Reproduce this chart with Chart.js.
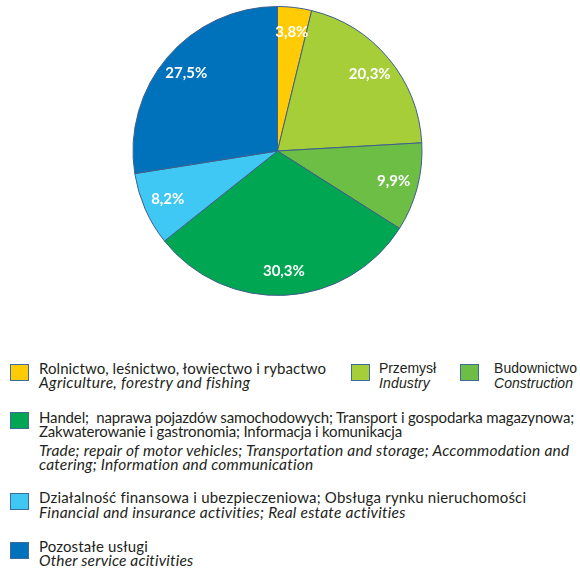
<!DOCTYPE html>
<html>
<head>
<meta charset="utf-8">
<script src="https://cdn.jsdelivr.net/npm/chart.js@4.4.0/dist/chart.umd.min.js"></script>
<style>
    body { margin: 0; background: #fff; width: 580px; height: 568px; overflow: hidden; position: relative; font-family: Lato, sans-serif; color: #231f20; }
    #pieWrap { position: absolute; left: 0; top: 6px; width: 555px; height: 290px; }
    .sw { position: absolute; width: 17px; height: 15px; border: 1px solid #3d6b9e; }
    .tx { position: absolute; white-space: pre; font-size: 15px; line-height: 14px; }
    .it { font-style: italic; font-size: 15.5px; }
    .tx.ar { font-family: "Liberation Sans", Arial, sans-serif; font-size: 14px; }
</style>
</head>
<body>
<div id="pieWrap"><canvas id="pieChart"></canvas></div>
<div id="legend"></div>
<script>
// Sector shares of gross value added (%)
const shares = [3.8, 20.3, 9.9, 30.3, 8.2, 27.5];
const colors = ['#FFCB05', '#A6CE39', '#6DBE45', '#00A651', '#40C8F4', '#0072BC'];

const sectorsPl = [
    ['Rolnictwo, leśnictwo, łowiectwo i rybactwo'],
    ['Przemysł'],
    ['Budownictwo'],
    ['Handel;  naprawa pojazdów samochodowych; Transport i gospodarka magazynowa;',
     'Zakwaterowanie i gastronomia; Informacja i komunikacja'],
    ['Działalność finansowa i ubezpieczeniowa; Obsługa rynku nieruchomości'],
    ['Pozostałe usługi']
];
const sectorsEn = [
    ['Agriculture, forestry and fishing'],
    ['Industry'],
    ['Construction'],
    ['Trade; repair of motor vehicles; Transportation and storage; Accommodation and',
     'catering; Information and communication'],
    ['Financial and insurance activities; Real estate activities'],
    ['Other service acitivities']
];

// legend layout: swatch x/y, text x, first PL / EN baselines, right edges of each line
const legendPos = [
    { sx: 10, sy: 364, tx: 39, pl: 374, en: 388, arial: false, plEnd: [326], enEnd: [250] },
    { sx: 351, sy: 364, tx: 379, pl: 373, en: 388, arial: true, plEnd: [436], enEnd: [430] },
    { sx: 460, sy: 364, tx: 494, pl: 373, en: 388, arial: true, plEnd: [577], enEnd: [573] },
    { sx: 10, sy: 412, tx: 39, pl: 423, en: 456, arial: false, plEnd: [574, 402], enEnd: [569, 313] },
    { sx: 10, sy: 493, tx: 39, pl: 503, en: 518, arial: false, plEnd: [526], enEnd: [405] },
    { sx: 10, sy: 542, tx: 39, pl: 552, en: 566, arial: false, plEnd: [148], enEnd: [193] }
];

function fmt(v) {
    return v.toFixed(1).replace('.', ',') + '%';
}

function addLine(text, cls, left, top, right) {
    const d = document.createElement('div');
    d.className = cls;
    d.style.left = left + 'px';
    d.style.top = top + 'px';
    d.textContent = text;
    legendEl.appendChild(d);
    // squeeze or stretch a little so the line ends where the original does
    const w = d.getBoundingClientRect().width;
    d.style.letterSpacing = ((right - left - w) / text.length).toFixed(3) + 'px';
}

// Build legend
const legendEl = document.getElementById('legend');
legendPos.forEach((p, i) => {
    const sw = document.createElement('div');
    sw.className = 'sw';
    sw.style.left = p.sx + 'px';
    sw.style.top = p.sy + 'px';
    sw.style.background = colors[i];
    legendEl.appendChild(sw);

    const off = p.arial ? 12 : 13;
    sectorsPl[i].forEach((line, k) => {
        addLine(line, 'tx' + (p.arial ? ' ar' : ''), p.tx, p.pl + k * 14 - off, p.plEnd[k]);
    });
    sectorsEn[i].forEach((line, k) => {
        addLine(line, 'tx it' + (p.arial ? ' ar' : ''), p.tx, p.en + k * 14 - off, p.enEnd[k]);
    });
});

// Percent labels inside slices
const sliceLabels = {
    id: 'sliceLabels',
    afterDatasetsDraw(chart) {
        const ctx = chart.ctx;
        const meta = chart.getDatasetMeta(0);
        ctx.save();
        ctx.font = 'bold 15px Lato, sans-serif';
        ctx.fillStyle = '#ffffff';
        ctx.textAlign = 'center';
        ctx.textBaseline = 'middle';
        meta.data.forEach((arc, i) => {
            const p = arc.getProps(['x', 'y', 'startAngle', 'endAngle', 'outerRadius'], true);
            const a = (p.startAngle + p.endAngle) / 2;
            const r = p.outerRadius * 0.83;
            ctx.fillText(fmt(shares[i]), p.x + Math.cos(a) * r, p.y + Math.sin(a) * r);
        });
        ctx.restore();
    }
};

const ctx = document.getElementById('pieChart').getContext('2d');
const pieChart = new Chart(ctx, {
    type: 'pie',
    data: {
        labels: sectorsPl.map(l => l.join(' ')),
        datasets: [{
            data: shares,
            backgroundColor: colors,
            borderColor: '#3f5f8c',
            borderWidth: 1
        }]
    },
    options: {
        responsive: true,
        maintainAspectRatio: false,
        animation: false,
        layout: { padding: 0 },
        plugins: {
            legend: { display: false },
            tooltip: { enabled: false }
        }
    },
    plugins: [sliceLabels]
});
</script>
</body>
</html>
